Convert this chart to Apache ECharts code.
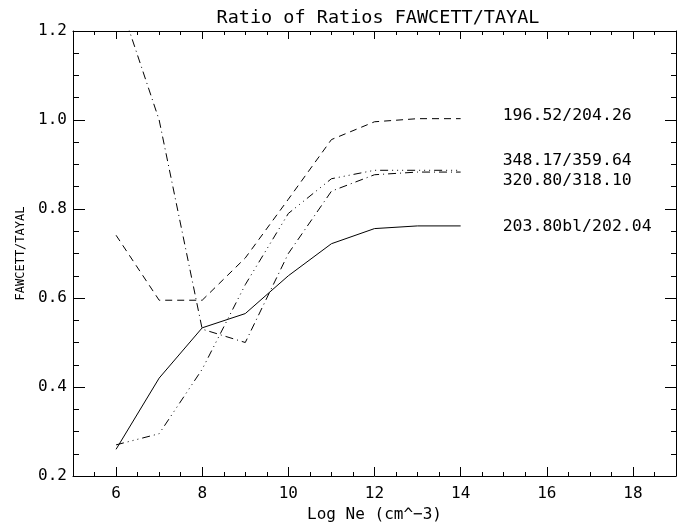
<!DOCTYPE html>
<html>
<head>
<meta charset="utf-8">
<title>Ratio of Ratios FAWCETT/TAYAL</title>
<script src="https://cdn.jsdelivr.net/npm/echarts@6/dist/echarts.min.js"></script>
<style>
  html, body { margin: 0; padding: 0; background: #fff; }
  #chart { width: 683px; height: 529px; }
</style>
</head>
<body>
<div id="chart"></div>
<script>
// Log Ne values where the ratios were computed
const logNe = [6, 7, 8, 9, 10, 11, 12, 13, 14];

// ratio curves
const r196 = [0.741, 0.595, 0.595, 0.69, 0.822, 0.956, 0.996, 1.003, 1.003];
const r348 = [0.27, 0.295, 0.44, 0.63, 0.79, 0.868, 0.887, 0.887, 0.887];
const r320 = [1.29, 1.0, 0.53, 0.5, 0.7, 0.84, 0.877, 0.883, 0.883];
const r203 = [0.26, 0.42, 0.533, 0.565, 0.65, 0.722, 0.756, 0.762, 0.762];

const lineNames = ["196.52/204.26", "348.17/359.64", "320.80/318.10", "203.80bl/202.04"];

// axis ticks
const xTicks = [6, 8, 10, 12, 14, 16, 18];
const yTicks = [0.2, 0.4, 0.6, 0.8, 1.0, 1.2];

const FONT = "DejaVu Sans Mono";
const INK = "#000";

const chart = echarts.init(document.getElementById("chart"), null, { renderer: "canvas" });

function pairs(ys) {
  return logNe.map((x, i) => [x, ys[i]]);
}

// minor ticks every 0.5 on one axis, major ticks on an overlaid one
function xAxisPair(position, majorLen, minorLen, withLabels) {
  return [
    {
      type: "value",
      position: position,
      min: 5,
      max: 19,
      interval: 0.5,
      axisLine: { show: true, onZero: false, lineStyle: { color: INK, width: 1 } },
      axisTick: { show: true, inside: true, length: minorLen, lineStyle: { color: INK } },
      axisLabel: withLabels
        ? { show: true, customValues: xTicks, color: INK, fontFamily: FONT, fontSize: 16, margin: 10 }
        : { show: false },
      splitLine: { show: false },
      name: withLabels ? "Log Ne (cm^\u22123)" : "",
      nameLocation: "middle",
      nameGap: 30,
      nameTextStyle: { color: INK, fontFamily: FONT, fontSize: 16 },
    },
    {
      type: "value",
      position: position,
      min: 5,
      max: 19,
      axisLine: { show: false, onZero: false },
      axisTick: { show: true, inside: true, length: majorLen, customValues: xTicks, lineStyle: { color: INK } },
      axisLabel: { show: false },
      splitLine: { show: false },
    },
  ];
}

function yAxisOne(position, majorLen, minorLen, withLabels) {
  return {
    type: "value",
    position: position,
    min: yTicks[0],
    max: yTicks[yTicks.length - 1],
    interval: 0.2,
    axisLine: { show: true, onZero: false, lineStyle: { color: INK, width: 1 } },
    axisTick: { show: true, inside: true, length: majorLen, lineStyle: { color: INK } },
    minorTick: { show: true, splitNumber: 4, length: minorLen, lineStyle: { color: INK } },
    axisLabel: withLabels
      ? { show: true, color: INK, fontFamily: FONT, fontSize: 16, margin: 6, formatter: (v) => v.toFixed(1) }
      : { show: false },
    splitLine: { show: false },
    minorSplitLine: { show: false },
    name: withLabels ? "FAWCETT/TAYAL" : "",
    nameLocation: "middle",
    nameGap: 46,
    nameTextStyle: { color: INK, fontFamily: FONT, fontSize: 12 },
  };
}

function lineSeries(name, ys, dash, labelDy) {
  return {
    name: name,
    type: "line",
    xAxisIndex: 0,
    yAxisIndex: 0,
    data: pairs(ys),
    showSymbol: false,
    symbol: "none",
    clip: true,
    lineStyle: { color: INK, width: 1, type: dash },
    endLabel: {
      show: true,
      formatter: "{a}",
      distance: 42,
      offset: [0, labelDy],
      color: INK,
      fontFamily: FONT,
      fontSize: 16.5,
    },
    emphasis: { disabled: true },
  };
}

chart.setOption({
  animation: false,
  backgroundColor: "#fff",
  title: {
    text: "Ratio of Ratios FAWCETT/TAYAL",
    left: 373,
    textAlign: "center",
    top: 4,
    textStyle: { color: INK, fontFamily: FONT, fontSize: 18.5, fontWeight: "normal" },
  },
  grid: { left: 73, right: 7, top: 31, bottom: 53 },
  xAxis: [].concat(xAxisPair("bottom", 9, 4, true), xAxisPair("top", 8, 4, false)),
  yAxis: [yAxisOne("left", 12, 6, true), yAxisOne("right", 11, 5, false)],
  series: [
    lineSeries(lineNames[0], r196, [7, 5], -3),
    lineSeries(lineNames[1], r348, [8, 4, 1, 4, 1, 4, 1, 4], -10),
    lineSeries(lineNames[2], r320, [8, 4, 1, 4], 9),
    lineSeries(lineNames[3], r203, "solid", 1),
  ],
});
</script>
</body>
</html>
